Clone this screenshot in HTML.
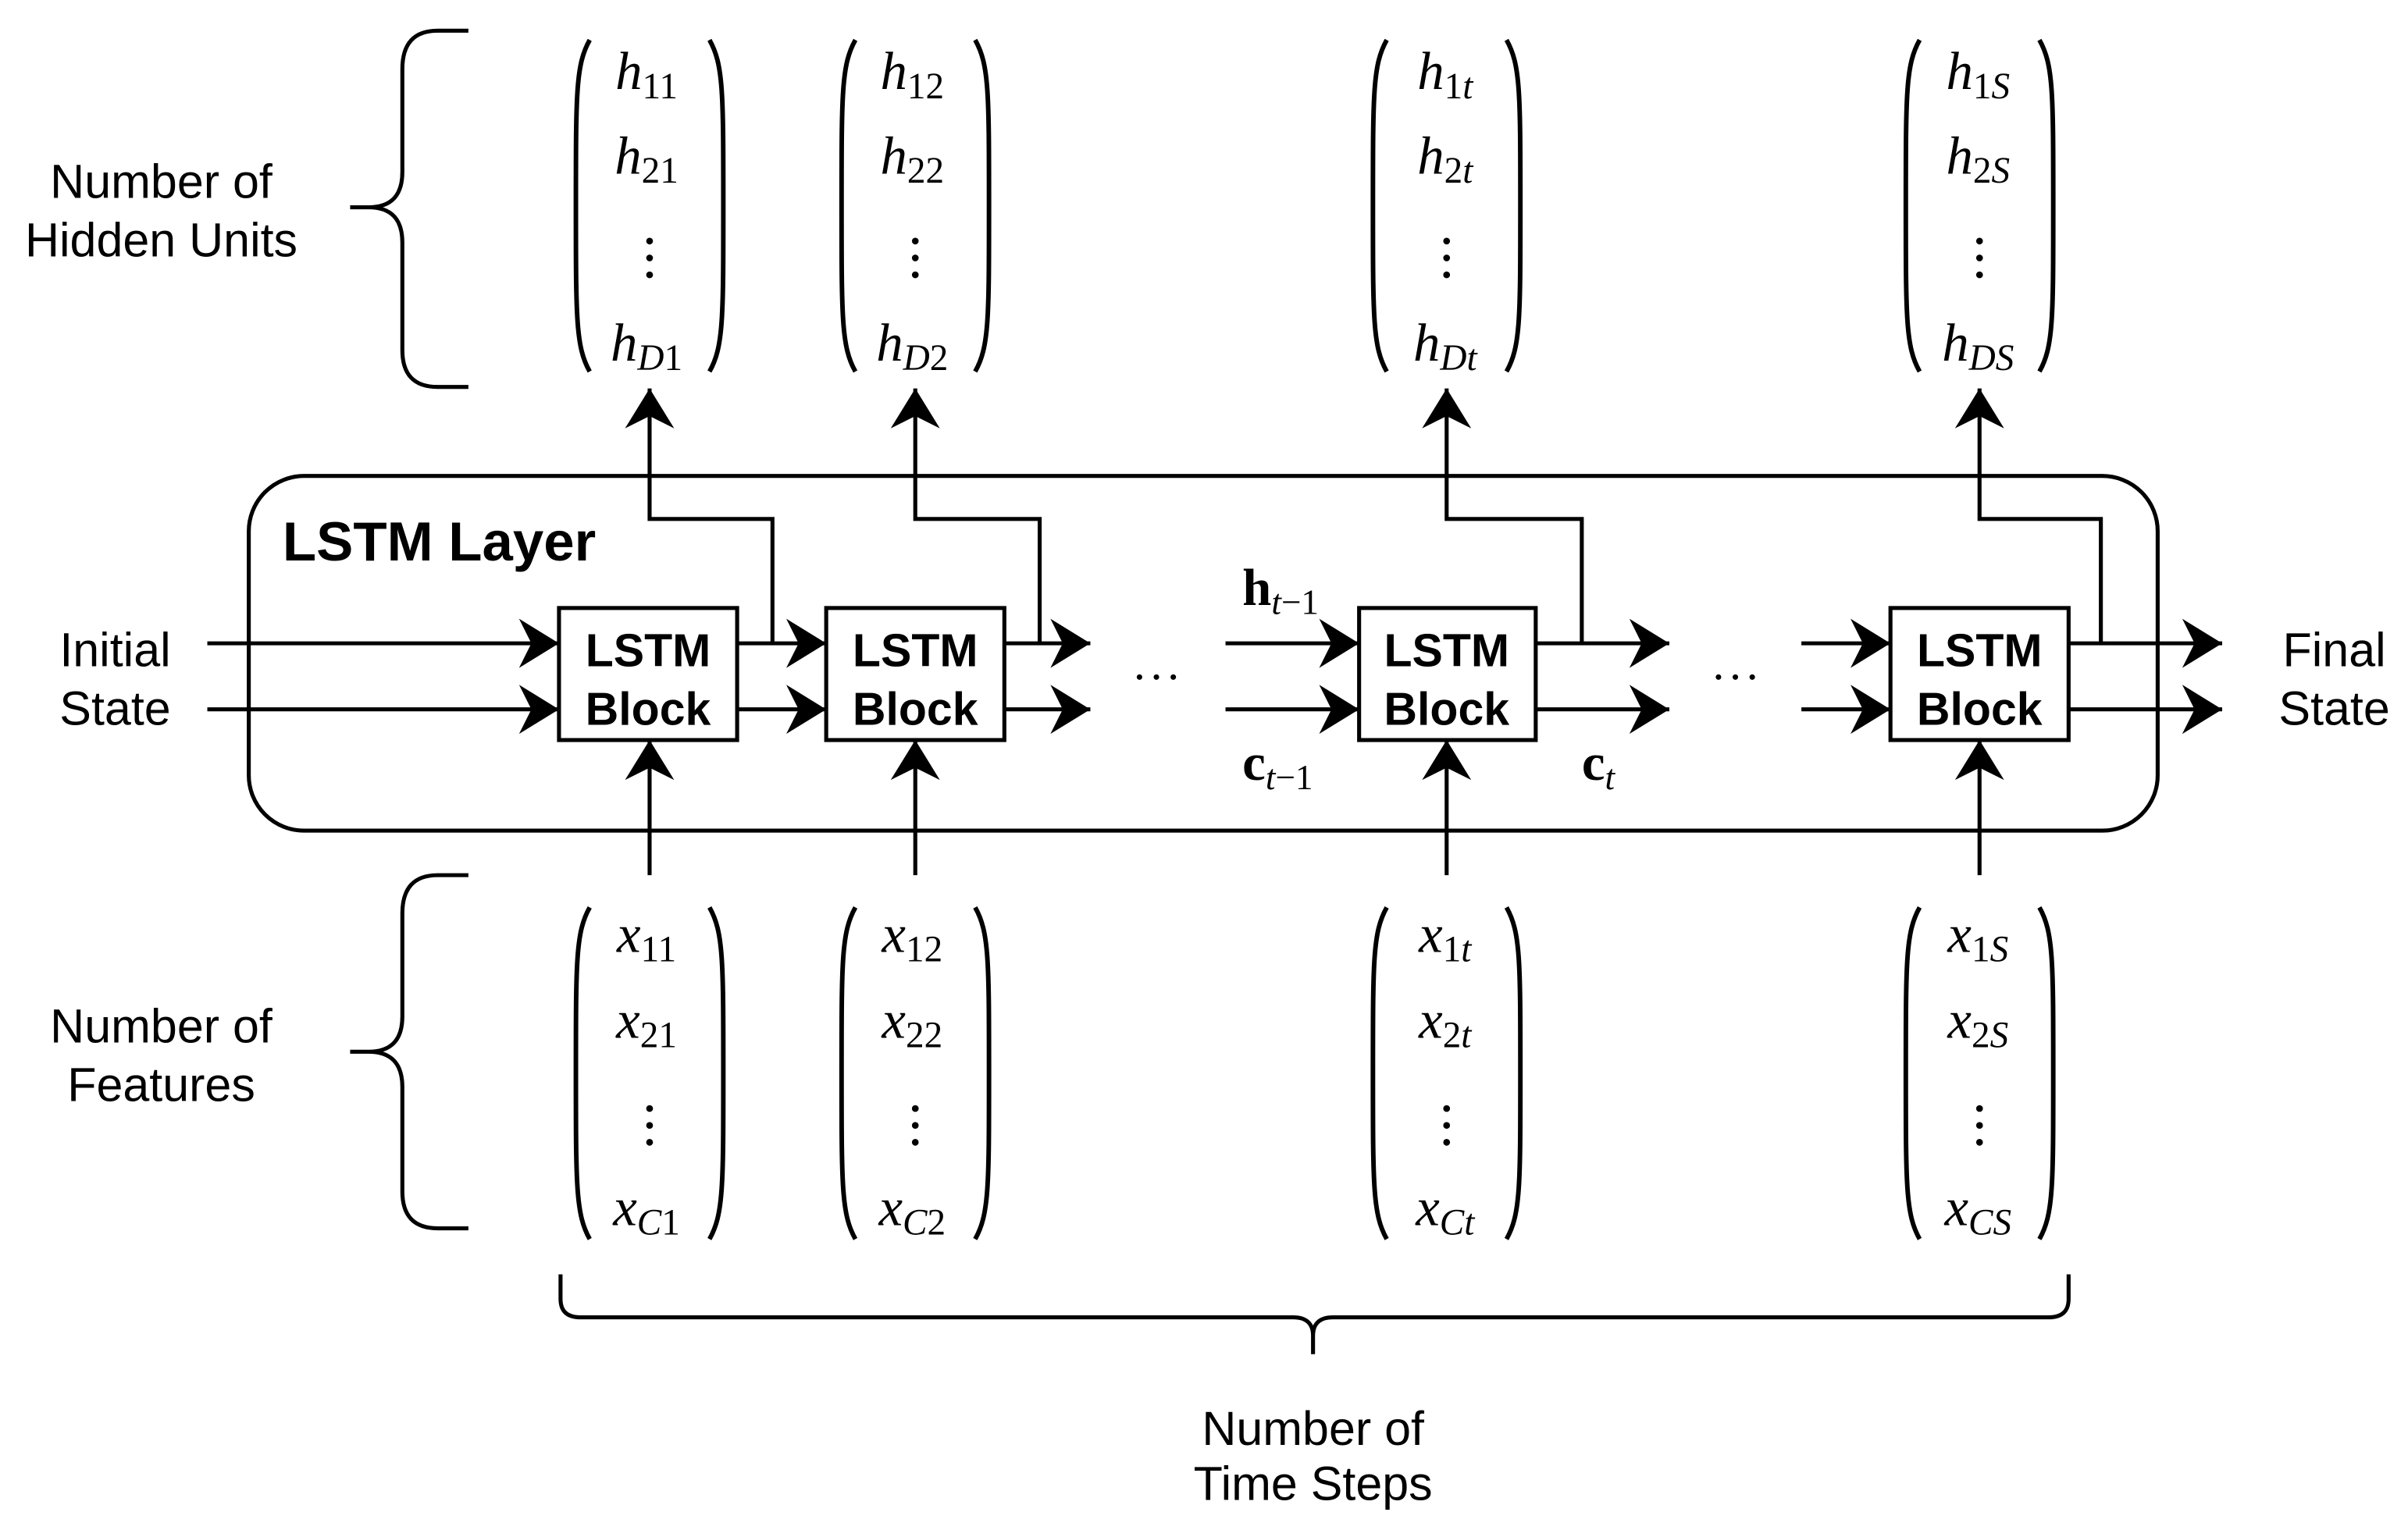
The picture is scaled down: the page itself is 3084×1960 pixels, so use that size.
<!DOCTYPE html>
<html><head><meta charset="utf-8"><style>html,body{margin:0;padding:0;background:#fff}svg{display:block}</style></head>
<body>
<svg width="3084" height="1960" viewBox="0 0 1568 996.5" preserveAspectRatio="none" xmlns="http://www.w3.org/2000/svg">
<defs>
<marker id="a" markerUnits="userSpaceOnUse" markerWidth="30" markerHeight="34" refX="26" refY="16" orient="auto">
<path d="M0,0 L26,16 L0,32 L8,16 Z" fill="#000"/>
</marker>
</defs>
<g fill="none" stroke="#000" stroke-width="2.6">
<rect x="162" y="310" width="1243" height="231" rx="36" ry="36"/>
<rect x="364" y="396" width="116" height="86" fill="#fff"/>
<rect x="538" y="396" width="116" height="86" fill="#fff"/>
<rect x="885" y="396" width="115" height="86" fill="#fff"/>
<rect x="1231" y="396" width="116" height="86" fill="#fff"/>
<g marker-end="url(#a)">
<line x1="135" y1="419" x2="364" y2="419"/><line x1="135" y1="462" x2="364" y2="462"/>
<line x1="480" y1="419" x2="538" y2="419"/><line x1="480" y1="462" x2="538" y2="462"/>
<line x1="654" y1="419" x2="710" y2="419"/><line x1="654" y1="462" x2="710" y2="462"/>
<line x1="798" y1="419" x2="885" y2="419"/><line x1="798" y1="462" x2="885" y2="462"/>
<line x1="1000" y1="419" x2="1087" y2="419"/><line x1="1000" y1="462" x2="1087" y2="462"/>
<line x1="1173" y1="419" x2="1231" y2="419"/><line x1="1173" y1="462" x2="1231" y2="462"/>
<line x1="1347" y1="419" x2="1447" y2="419"/><line x1="1347" y1="462" x2="1447" y2="462"/>
<polyline points="503,419 503,338 423,338 423,253"/>
<polyline points="677,419 677,338 596,338 596,253"/>
<polyline points="1030,419 1030,338 942,338 942,253"/>
<polyline points="1368,419 1368,338 1289,338 1289,253"/>
<line x1="423" y1="570" x2="423" y2="482"/>
<line x1="596" y1="570" x2="596" y2="482"/>
<line x1="942" y1="570" x2="942" y2="482"/>
<line x1="1289" y1="570" x2="1289" y2="482"/>
</g>
<path d="M305,20 L285,20 Q262,20 262,45 L262,112 Q262,135 240,135 L228,135 M240,135 Q262,135 262,158 L262,228 Q262,252 285,252 L305,252"/>
<path d="M305,570 L285,570 Q262,570 262,595 L262,662 Q262,685 240,685 L228,685 M240,685 Q262,685 262,708 L262,776 Q262,800 285,800 L305,800"/>
<path d="M365,830 L365,846 Q365,858 378,858 L842,858 Q855,858 855,870 L855,882 M855,870 Q855,858 868,858 L1334,858 Q1347,858 1347,846 L1347,830"/>
</g>
<g fill="none" stroke="#000" stroke-width="3">
<g id="ph">
<path d="M384,26 C375,42 375,60 375,134 C375,208 375,226 384,242"/>
<path d="M462,26 C471,42 471,60 471,134 C471,208 471,226 462,242"/>
</g>
<use href="#ph" x="173"/><use href="#ph" x="519"/><use href="#ph" x="866"/>
<use href="#ph" y="565"/><use href="#ph" x="173" y="565"/><use href="#ph" x="519" y="565"/><use href="#ph" x="866" y="565"/>
</g>
<g fill="#000">
<g id="dt"><circle cx="423" cy="157" r="2.2"/><circle cx="423" cy="168" r="2.2"/><circle cx="423" cy="179" r="2.2"/></g>
<use href="#dt" x="173"/><use href="#dt" x="519"/><use href="#dt" x="866"/>
<use href="#dt" y="565"/><use href="#dt" x="173" y="565"/><use href="#dt" x="519" y="565"/><use href="#dt" x="866" y="565"/>
<circle cx="742" cy="441" r="1.8"/><circle cx="753" cy="441" r="1.8"/><circle cx="764" cy="441" r="1.8"/>
<circle cx="1119" cy="441" r="1.8"/><circle cx="1130" cy="441" r="1.8"/><circle cx="1141" cy="441" r="1.8"/>
</g>
<g font-family="Liberation Serif, serif" font-style="italic" font-size="35" text-anchor="middle" fill="#000">
<text x="421" y="58">h<tspan font-size="24" font-style="normal" dy="6">11</tspan></text>
<text x="421" y="113">h<tspan font-size="24" font-style="normal" dy="6">21</tspan></text>
<text x="421" y="235">h<tspan font-size="24" dy="6">D</tspan><tspan font-size="24" font-style="normal">1</tspan></text>
<text x="594" y="58">h<tspan font-size="24" font-style="normal" dy="6">12</tspan></text>
<text x="594" y="113">h<tspan font-size="24" font-style="normal" dy="6">22</tspan></text>
<text x="594" y="235">h<tspan font-size="24" dy="6">D</tspan><tspan font-size="24" font-style="normal">2</tspan></text>
<text x="941" y="58">h<tspan font-size="24" font-style="normal" dy="6">1</tspan><tspan font-size="24">t</tspan></text>
<text x="941" y="113">h<tspan font-size="24" font-style="normal" dy="6">2</tspan><tspan font-size="24">t</tspan></text>
<text x="941" y="235">h<tspan font-size="24" dy="6">Dt</tspan></text>
<text x="1288" y="58">h<tspan font-size="24" font-style="normal" dy="6">1</tspan><tspan font-size="24">S</tspan></text>
<text x="1288" y="113">h<tspan font-size="24" font-style="normal" dy="6">2</tspan><tspan font-size="24">S</tspan></text>
<text x="1288" y="235">h<tspan font-size="24" dy="6">DS</tspan></text>
<text x="421" y="620">x<tspan font-size="24" font-style="normal" dy="6">11</tspan></text>
<text x="421" y="676">x<tspan font-size="24" font-style="normal" dy="6">21</tspan></text>
<text x="421" y="798">x<tspan font-size="24" dy="6">C</tspan><tspan font-size="24" font-style="normal">1</tspan></text>
<text x="594" y="620">x<tspan font-size="24" font-style="normal" dy="6">12</tspan></text>
<text x="594" y="676">x<tspan font-size="24" font-style="normal" dy="6">22</tspan></text>
<text x="594" y="798">x<tspan font-size="24" dy="6">C</tspan><tspan font-size="24" font-style="normal">2</tspan></text>
<text x="941" y="620">x<tspan font-size="24" font-style="normal" dy="6">1</tspan><tspan font-size="24">t</tspan></text>
<text x="941" y="676">x<tspan font-size="24" font-style="normal" dy="6">2</tspan><tspan font-size="24">t</tspan></text>
<text x="941" y="798">x<tspan font-size="24" dy="6">Ct</tspan></text>
<text x="1288" y="620">x<tspan font-size="24" font-style="normal" dy="6">1</tspan><tspan font-size="24">S</tspan></text>
<text x="1288" y="676">x<tspan font-size="24" font-style="normal" dy="6">2</tspan><tspan font-size="24">S</tspan></text>
<text x="1288" y="798">x<tspan font-size="24" dy="6">CS</tspan></text>
</g>
<g font-family="Liberation Serif, serif" font-weight="bold" font-size="34" fill="#000">
<text x="809" y="394">h<tspan font-size="23" font-weight="normal" font-style="italic" dy="6">t</tspan><tspan font-size="23" font-weight="normal">−1</tspan></text>
<text x="809" y="508">c<tspan font-size="23" font-weight="normal" font-style="italic" dy="6">t</tspan><tspan font-size="23" font-weight="normal">−1</tspan></text>
<text x="1030" y="508">c<tspan font-size="23" font-weight="normal" font-style="italic" dy="6">t</tspan></text>
</g>
<g font-family="Liberation Sans, sans-serif" font-size="31" fill="#000" text-anchor="middle">
<text x="105" y="129">Number of</text><text x="105" y="167">Hidden Units</text>
<text x="105" y="679">Number of</text><text x="105" y="717">Features</text>
<text x="855" y="941">Number of</text><text x="855" y="977">Time Steps</text>
<text x="75" y="434">Initial</text><text x="75" y="472">State</text>
<text x="1520" y="434">Final</text><text x="1520" y="472">State</text>
</g>
<g font-family="Liberation Sans, sans-serif" font-weight="bold" fill="#000" text-anchor="middle" font-size="30">
<text x="422" y="434">LSTM</text><text x="422" y="472">Block</text>
<text x="596" y="434">LSTM</text><text x="596" y="472">Block</text>
<text x="942" y="434">LSTM</text><text x="942" y="472">Block</text>
<text x="1289" y="434">LSTM</text><text x="1289" y="472">Block</text>
</g>
<text x="184" y="365" font-family="Liberation Sans, sans-serif" font-weight="bold" font-size="36" fill="#000">LSTM Layer</text>
</svg>
</body></html>
